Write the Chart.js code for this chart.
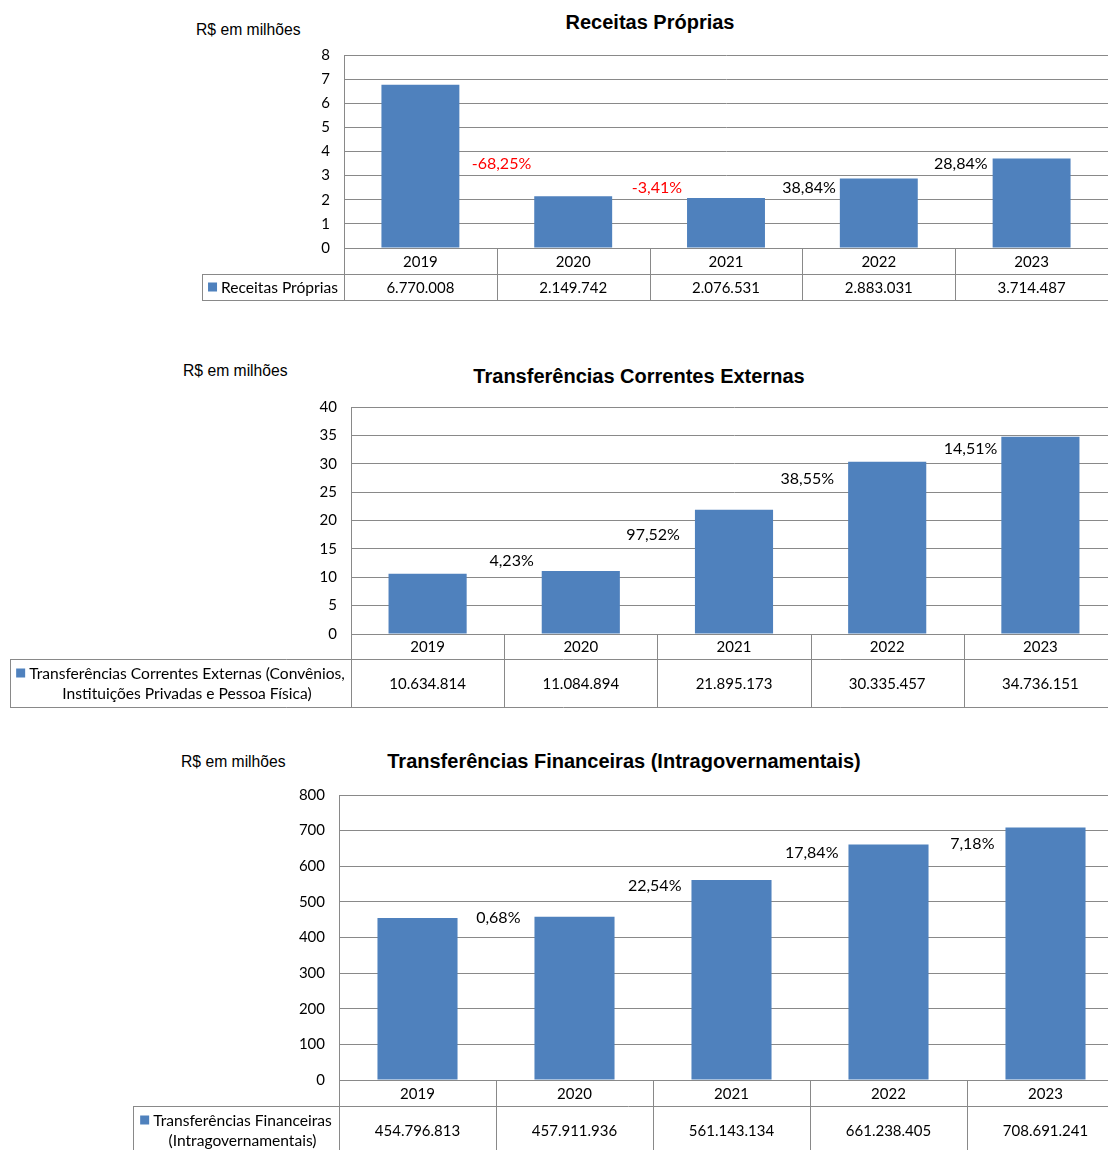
<!DOCTYPE html>
<html lang="pt-BR">
<head>
<meta charset="utf-8">
<title>Receitas e Transferências</title>
<script src="https://cdn.jsdelivr.net/npm/chart.js@4.4.1/dist/chart.umd.min.js"></script>
<style>
  html, body { margin: 0; padding: 0; background: #fff; }
  body { width: 1108px; height: 1150px; position: relative; overflow: hidden; }
  .box { position: absolute; left: 0; }
  .title { position: absolute; font: bold 20px "Liberation Sans", Arial, sans-serif; color: #000; transform: translateX(-50%); white-space: nowrap; }
  .unit { position: absolute; font: 15.7px "Liberation Sans", Arial, sans-serif; color: #000; white-space: nowrap; }
</style>
</head>
<body>

<div class="unit" style="left:196px; top:21px;">R$ em milhões</div>
<div class="title" style="left:650px; top:11px;">Receitas Próprias</div>
<div class="box" style="top:0; width:1108px; height:310px;"><canvas id="chartReceitas"></canvas></div>

<div class="unit" style="left:183px; top:362px;">R$ em milhões</div>
<div class="title" style="left:639px; top:365px;">Transferências Correntes Externas</div>
<div class="box" style="top:330px; width:1117px; height:390px;"><canvas id="chartCorrentes"></canvas></div>

<div class="unit" style="left:181px; top:753px;">R$ em milhões</div>
<div class="title" style="left:624px; top:750px;">Transferências Financeiras (Intragovernamentais)</div>
<div class="box" style="top:740px; width:1124px; height:410px;"><canvas id="chartFinanceiras"></canvas></div>

<script>
// Valores em R$ mil (tabela); barras em R$ milhões
const years = ['2019', '2020', '2021', '2022', '2023'];
const receitasProprias = [6770008, 2149742, 2076531, 2883031, 3714487];
const transfCorrentes = [10634814, 11084894, 21895173, 30335457, 34736151];
const transfFinanceiras = [454796813, 457911936, 561143134, 661238405, 708691241];

// eixos
const yMaxReceitas = 8, yStepReceitas = 1;
const yMaxCorrentes = 40, yStepCorrentes = 5;
const yMaxFinanceiras = 800, yStepFinanceiras = 100;

const barColor = '#4F81BD';
const lineColor = '#898989';
const bodyFont = 'Lato, "Open Sans", sans-serif';

function fmtMil(v) {
    return String(v).replace(/\B(?=(\d{3})+(?!\d))/g, '.');
}

function pctChange(arr) {
    return arr.map(function(v, i) {
        if (i === 0) return null;
        return ((v / arr[i - 1] - 1) * 100).toFixed(2).replace('.', ',') + '%';
    });
}

// variação % ao lado de cada barra
const pctLabels = {
    id: 'pctLabels',
    afterDatasetsDraw(chart, args, opts) {
        const ctx = chart.ctx;
        const meta = chart.getDatasetMeta(0);
        const labels = opts.labels;
        ctx.save();
        ctx.font = '16px ' + bodyFont;
        ctx.textAlign = 'right';
        ctx.textBaseline = 'middle';
        meta.data.forEach(function(bar, i) {
            if (!labels[i]) return;
            const nudge = opts.nudge[i] || [4, 0];
            ctx.fillStyle = labels[i].charAt(0) === '-' ? '#FF0000' : '#000000';
            ctx.fillText(labels[i], bar.x - bar.width / 2 - nudge[0], bar.y + nudge[1]);
        });
        ctx.restore();
    }
};

// tabela de dados abaixo do gráfico
const dataTable = {
    id: 'dataTable',
    afterDraw(chart, args, opts) {
        const ctx = chart.ctx;
        const area = chart.chartArea;
        const xs = chart.scales.x;
        const values = chart.data.datasets[0].rawValues;
        const top = Math.round(area.bottom);
        const mid = top + opts.yearRow;
        const bottom = mid + opts.dataRow;
        const colW = (area.right - area.left) / years.length;
        const L = opts.legendLeft;

        ctx.save();
        ctx.strokeStyle = lineColor;
        ctx.lineWidth = 1;
        ctx.beginPath();
        // horizontais
        ctx.moveTo(area.left, top + 0.5); ctx.lineTo(area.right, top + 0.5);
        ctx.moveTo(L, mid + 0.5); ctx.lineTo(area.right, mid + 0.5);
        ctx.moveTo(L, bottom + 0.5); ctx.lineTo(area.right, bottom + 0.5);
        // verticais
        ctx.moveTo(L + 0.5, mid); ctx.lineTo(L + 0.5, bottom);
        for (let i = 0; i <= years.length; i++) {
            const x = Math.round(area.left + i * colW) + 0.5;
            ctx.moveTo(x, top); ctx.lineTo(x, bottom);
        }
        ctx.stroke();

        ctx.fillStyle = '#000';
        ctx.font = '15px ' + bodyFont;
        ctx.textAlign = 'center';
        ctx.textBaseline = 'middle';
        years.forEach(function(y, i) {
            const cx = xs.getPixelForValue(i);
            ctx.fillText(y, cx, top + opts.yearRow / 2 + 1);
            ctx.fillText(fmtMil(values[i]), cx, mid + opts.dataRow / 2 + 1);
        });

        // legenda da série
        ctx.font = '15.6px ' + bodyFont;
        const lines = opts.legendLines;
        const lineH = 20;
        const sq = 9, gap = 4;
        let maxW = 0;
        lines.forEach(function(t) { maxW = Math.max(maxW, ctx.measureText(t).width); });
        const cellC = (L + area.left) / 2;
        const startX = cellC - (sq + gap + maxW) / 2;
        const textC = startX + sq + gap + maxW / 2;
        const firstY = mid + opts.dataRow / 2 - (lines.length - 1) * lineH / 2 + 1;
        lines.forEach(function(t, k) {
            const ty = firstY + k * lineH;
            if (k === 0) {
                const w = ctx.measureText(t).width;
                const sx = textC - w / 2 - gap - sq;
                ctx.fillStyle = barColor;
                ctx.fillRect(sx, ty - sq / 2 - 1, sq, sq);
                ctx.fillStyle = '#000';
            }
            ctx.fillText(t, textC, ty);
        });
        ctx.restore();
    }
};

function makeChart(id, raw, yMax, yStep, axisW, pad, table, nudge) {
    const ctx = document.getElementById(id).getContext('2d');
    return new Chart(ctx, {
        type: 'bar',
        data: {
            labels: years,
            datasets: [{
                data: raw.map(function(v) { return v / 1e6; }),
                rawValues: raw,
                backgroundColor: barColor,
                borderWidth: 0,
                barPercentage: 0.51,
                categoryPercentage: 1
            }]
        },
        plugins: [pctLabels, dataTable],
        options: {
            responsive: true,
            maintainAspectRatio: false,
            animation: false,
            layout: { padding: { top: pad.top, bottom: pad.bottom, left: 0, right: 0 } },
            plugins: {
                legend: { display: false },
                tooltip: { enabled: false },
                pctLabels: { labels: pctChange(raw), nudge: nudge },
                dataTable: table
            },
            scales: {
                x: { display: false },
                y: {
                    min: 0,
                    max: yMax,
                    afterFit: function(scale) { scale.width = axisW; },
                    ticks: {
                        stepSize: yStep,
                        padding: 14,
                        color: '#000',
                        font: { family: bodyFont, size: 15 }
                    },
                    grid: { color: lineColor, drawTicks: false },
                    border: { color: lineColor }
                }
            }
        }
    });
}

document.addEventListener('DOMContentLoaded', function() {
    makeChart('chartReceitas', receitasProprias, yMaxReceitas, yStepReceitas, 344,
        { top: 55, bottom: 62 },
        { yearRow: 26, dataRow: 26, legendLeft: 202, legendLines: ['Receitas Próprias'] },
        [null, [3, -32], [5, -10], [4, 9], [5, 5]]);

    makeChart('chartCorrentes', transfCorrentes, yMaxCorrentes, yStepCorrentes, 351,
        { top: 77, bottom: 86 },
        { yearRow: 25, dataRow: 48, legendLeft: 10,
          legendLines: ['Transferências Correntes Externas (Convênios,', 'Instituições Privadas e Pessoa Física)'] },
        [null, [8, -10], [15, 25], [14, 17], [4, 12]]);

    makeChart('chartFinanceiras', transfFinanceiras, yMaxFinanceiras, yStepFinanceiras, 339,
        { top: 55, bottom: 70 },
        { yearRow: 26, dataRow: 48, legendLeft: 133,
          legendLines: ['Transferências Financeiras', '(Intragovernamentais)'] },
        [null, [14, 1], [10, 6], [10, 8], [11, 16]]);
});
</script>
</body>
</html>
